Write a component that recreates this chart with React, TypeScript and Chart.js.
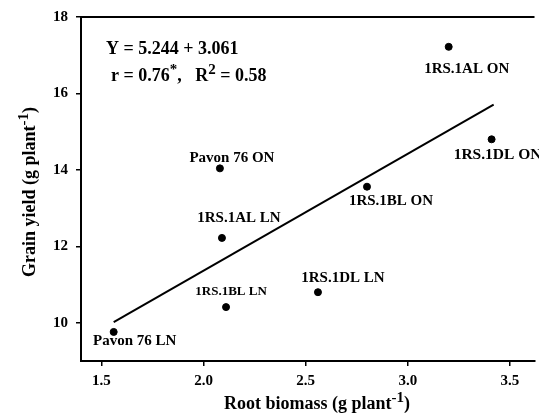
import React, { useEffect, useRef } from "react";
import { Chart, registerables } from "chart.js";
Chart.register(...registerables);

const genotypes = [
  "Pavon 76 LN",
  "Pavon 76 ON",
  "1RS.1AL LN",
  "1RS.1BL LN",
  "1RS.1DL LN",
  "1RS.1BL ON",
  "1RS.1AL ON",
  "1RS.1DL ON",
];
const rootBiomass = [1.56, 2.08, 2.09, 2.11, 2.56, 2.8, 3.2, 3.41];
const grainYield = [9.76, 14.04, 12.22, 10.41, 10.8, 13.56, 17.22, 14.8];
const fitX = [1.56, 3.42];
const fitY = [10.02, 15.71];
const xTickValues = [1.5, 2.0, 2.5, 3.0, 3.5];
const yTickValues = [10, 12, 14, 16, 18];

const FAMILY = "'Liberation Serif', 'Times New Roman', serif";

// label placement (pixel offsets of text centre from its point) and size
const labelStyle = [
  { dx: 21, dy: 9, size: 15 },
  { dx: 12, dy: -10, size: 15 },
  { dx: 17, dy: -20, size: 15 },
  { dx: 5, dy: -15, size: 13 },
  { dx: 25, dy: -14, size: 15 },
  { dx: 24, dy: 14, size: 15 },
  { dx: 18, dy: 22, size: 15 },
  { dx: 6, dy: 16, size: 15.5 },
];

type Part = { t: string; sup?: boolean };

function drawRich(
  ctx: CanvasRenderingContext2D,
  parts: Part[],
  x: number,
  y: number,
  size: number,
  supSize: number,
  supRaise: number,
  align: "left" | "center"
) {
  const fontFor = (p: Part) => `bold ${p.sup ? supSize : size}px ${FAMILY}`;
  let total = 0;
  for (const p of parts) {
    ctx.font = fontFor(p);
    total += ctx.measureText(p.t).width;
  }
  let cx = align === "center" ? x - total / 2 : x;
  ctx.textAlign = "left";
  ctx.textBaseline = "middle";
  for (const p of parts) {
    ctx.font = fontFor(p);
    ctx.fillText(p.t, cx, p.sup ? y - supRaise : y);
    cx += ctx.measureText(p.t).width;
  }
}

const overlayPlugin = {
  id: "overlay",
  afterDraw(chart: any) {
    const ctx: CanvasRenderingContext2D = chart.ctx;
    const area = chart.chartArea;
    const xs = chart.scales.x;
    const ys = chart.scales.y;
    ctx.save();
    ctx.fillStyle = "#000";
    ctx.strokeStyle = "#000";
    // top frame line
    ctx.lineWidth = 2;
    ctx.beginPath();
    ctx.moveTo(area.left - 1, area.top);
    ctx.lineTo(area.right, area.top);
    ctx.stroke();

    // point labels
    genotypes.forEach((name, i) => {
      const px = xs.getPixelForValue(rootBiomass[i]);
      const py = ys.getPixelForValue(grainYield[i]);
      const st = labelStyle[i];
      ctx.font = `bold ${st.size}px ${FAMILY}`;
      ctx.textAlign = "center";
      ctx.textBaseline = "middle";
      ctx.fillText(name, px + st.dx, py + st.dy);
    });

    // equation
    drawRich(ctx, [{ t: "Y = 5.244 + 3.061" }], 106, 49, 18, 12, 0, "left");
    drawRich(
      ctx,
      [
        { t: "r = 0.76" },
        { t: "*", sup: true },
        { t: ",   R" },
        { t: "2", sup: true },
        { t: " = 0.58" },
      ],
      111,
      76,
      18,
      15,
      6,
      "left"
    );

    // x title
    drawRich(
      ctx,
      [{ t: "Root biomass (g plant" }, { t: "-1", sup: true }, { t: ")" }],
      317,
      404,
      18,
      15,
      6,
      "center"
    );

    // y title
    ctx.translate(30, 192);
    ctx.rotate(-Math.PI / 2);
    drawRich(
      ctx,
      [{ t: "Grain yield (g plant" }, { t: "-1", sup: true }, { t: ")" }],
      0,
      0,
      18,
      15,
      6,
      "center"
    );
    ctx.restore();
  },
};

export default function App() {
  const ref = useRef<HTMLCanvasElement | null>(null);
  useEffect(() => {
    if (!ref.current) return;
    const tickFont = { family: FAMILY, size: 15, weight: "bold" as const };
    const chart = new Chart(ref.current, {
      type: "scatter",
      data: {
        datasets: [
          {
            label: "Genotypes",
            data: rootBiomass.map((x, i) => ({ x, y: grainYield[i] })),
            backgroundColor: "#000",
            borderColor: "#000",
            pointRadius: 3.5,
            pointHoverRadius: 3.5,
          },
          {
            type: "line" as any,
            label: "Fit",
            data: fitX.map((x, i) => ({ x, y: fitY[i] })),
            borderColor: "#000",
            borderWidth: 2,
            pointRadius: 0,
            showLine: true,
            fill: false,
          },
        ],
      },
      options: {
        responsive: false,
        animation: false,
        layout: { padding: { top: 16, left: 0, right: 0, bottom: 0 } },
        plugins: {
          legend: { display: false },
          tooltip: { enabled: false },
        },
        scales: {
          x: {
            type: "linear",
            min: 1.4,
            max: 3.62,
            afterBuildTicks: (s: any) => {
              s.ticks = xTickValues.map((v) => ({ value: v }));
            },
            afterFit: (s: any) => {
              s.height = 52;
            },
            ticks: {
              font: tickFont,
              color: "#000",
              padding: 6,
              maxRotation: 0,
              autoSkip: false,
              callback: (v: any) => Number(v).toFixed(1),
            },
            grid: {
              drawOnChartArea: false,
              drawTicks: true,
              tickLength: 5,
              color: "#000",
              lineWidth: 1.5,
            },
            border: { display: true, color: "#000", width: 2 },
          },
          y: {
            type: "linear",
            min: 9,
            max: 18,
            afterBuildTicks: (s: any) => {
              s.ticks = yTickValues.map((v) => ({ value: v }));
            },
            afterFit: (s: any) => {
              s.width = 81;
            },
            ticks: {
              font: tickFont,
              color: "#000",
              padding: 8,
              autoSkip: false,
              callback: (v: any) => String(Math.round(Number(v))),
            },
            grid: {
              drawOnChartArea: false,
              drawTicks: true,
              tickLength: 5,
              color: "#000",
              lineWidth: 1.5,
            },
            border: { display: true, color: "#000", width: 2 },
          },
        },
      },
      plugins: [overlayPlugin],
    });
    return () => chart.destroy();
  }, []);
  return (
    <div style={{ position: "absolute", left: 0, top: 0, width: 539, height: 413, background: "#fff" }}>
      <canvas ref={ref} width={539} height={413} style={{ display: "block" }} />
    </div>
  );
}
